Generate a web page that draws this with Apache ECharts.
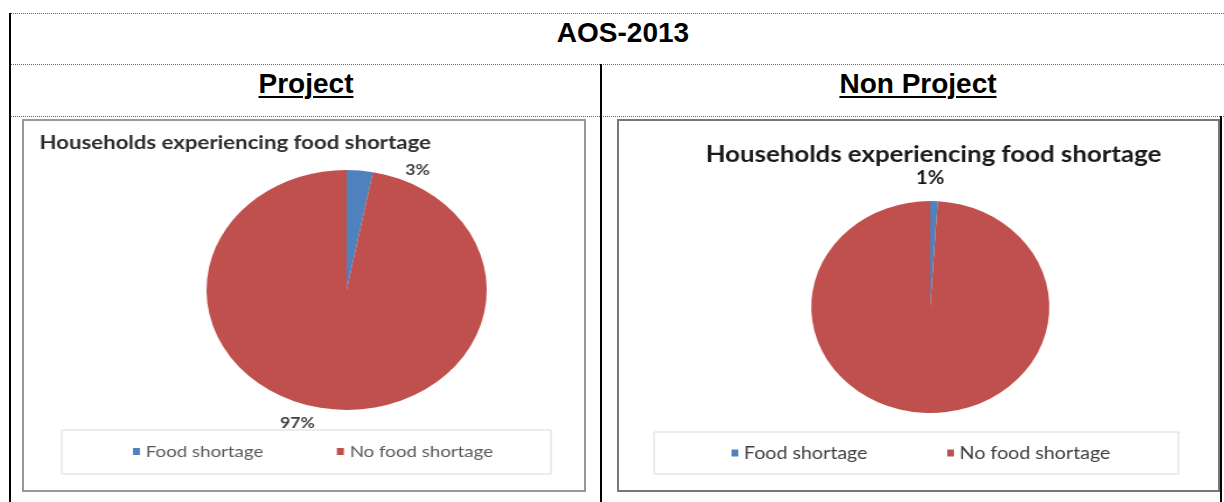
<!DOCTYPE html>
<html>
<head>
<meta charset="utf-8">
<script src="https://cdn.jsdelivr.net/npm/echarts@6/dist/echarts.min.js"></script>
<style>
  html, body { margin: 0; padding: 0; background: #fff; }
  #page { position: relative; width: 1224px; height: 502px; overflow: hidden; font-family: "Liberation Sans", Arial, sans-serif; }
  .dot { position: absolute; height: 0; border-top: 1px dotted #666; }
  .bar { position: absolute; width: 2px; background: #000; }
  .cap { position: absolute; text-align: center; font-size: 28px; line-height: 28px; font-weight: bold; color: #000; white-space: nowrap; }
  .u { text-decoration: underline; text-decoration-thickness: 2px; text-underline-offset: 3px; }
  .chart { position: absolute; height: 373px; transform-origin: 0 0; }
  .frame { position: absolute; box-sizing: border-box; pointer-events: none; }
</style>
</head>
<body>
<div id="page">
  <div class="dot" style="left:9px;top:13px;width:1215px"></div>
  <div class="dot" style="left:9px;top:64px;width:1215px"></div>
  <div class="dot" style="left:9px;top:116px;width:1215px"></div>
  <div class="bar" style="left:9px;top:13px;height:489px"></div>
  <div class="bar" style="left:600px;top:64px;height:438px"></div>
  <div class="bar" style="left:1220px;top:116px;height:386px"></div>

  <div class="cap" style="left:423px;top:19px;width:400px">AOS-2013</div>
  <div class="cap u" style="left:156px;top:70px;width:300px">Project</div>
  <div class="cap u" style="left:768px;top:70px;width:300px">Non Project</div>

  <!-- les images Excel sont étirées en largeur : on étire le canvas pareil -->
  <div id="c1" class="chart" style="left:22px;top:119px;width:483px;transform:scaleX(1.1677)"></div>
  <div id="c2" class="chart" style="left:617px;top:119px;width:537px;transform:scaleX(1.1229)"></div>
  <div class="frame" style="left:22px;top:119px;width:564px;height:373px;border:2px solid #999"></div>
  <div class="frame" style="left:617px;top:119px;width:603px;height:373px;border:2px solid #777"></div>
</div>
<script>
const categories = ['Food shortage', 'No food shortage'];
const projectValues = [3, 97];
const nonProjectValues = [1, 99];
const chartTitle = 'Households experiencing food shortage';

const BLUE = '#4F81BD';
const RED = '#C0504D';

function panelOption(values, s) {
  return {
    animation: false,
    color: [BLUE, RED],
    title: {
      text: chartTitle,
      left: s.titleLeft,
      top: s.titleTop,
      padding: 0,
      textStyle: { fontFamily: 'Lato', fontWeight: 'bold', fontSize: s.titleSize, color: s.titleColor }
    },
    legend: {
      data: categories,
      left: s.legendLeft,
      top: s.legendTop,
      padding: 0,
      itemGap: s.legendGap,
      itemWidth: 6,
      itemHeight: 7,
      icon: 'rect',
      textStyle: { fontFamily: 'Lato', fontSize: s.legendSize, color: s.legendColor }
    },
    graphic: [{
      type: 'rect',
      silent: true,
      shape: s.legendBox,
      style: { fill: 'none', stroke: '#d9d9d9', lineWidth: 1 }
    }],
    series: [{
      type: 'pie',
      radius: s.radius,
      center: s.center,
      startAngle: 90,
      clockwise: true,
      avoidLabelOverlap: false,
      label: {
        position: 'outside',
        formatter: (p) => Math.round(p.percent) + '%',
        fontFamily: 'Lato',
        fontWeight: 'bold',
        fontSize: s.labelSize,
        color: s.labelColor
      },
      labelLine: { show: false, length: 0, length2: 0 },
      labelLayout: (p) => ({ dx: s.labelNudge[p.dataIndex][0], dy: s.labelNudge[p.dataIndex][1] }),
      emphasis: { scale: false },
      data: categories.map((name, i) => ({ name, value: values[i], label: { show: s.showLabel[i] } }))
    }]
  };
}

const c1 = echarts.init(document.getElementById('c1'), null, { renderer: 'canvas' });
c1.setOption(panelOption(projectValues, {
  titleLeft: 15, titleTop: 14.5, titleSize: 19, titleColor: '#2e2e2e',
  legendLeft: 95, legendTop: 324.5, legendGap: 63, legendSize: 16, legendColor: '#595959',
  legendBox: { x: 34, y: 311, width: 419, height: 44 },
  radius: 120, center: [278, 171],
  labelSize: 15, labelColor: '#404040',
  labelNudge: [[34, 0], [-11, 14]],
  showLabel: [true, true]
}));

const c2 = echarts.init(document.getElementById('c2'), null, { renderer: 'canvas' });
c2.setOption(panelOption(nonProjectValues, {
  titleLeft: 79, titleTop: 24.5, titleSize: 23, titleColor: '#1a1a1a',
  legendLeft: 102, legendTop: 325, legendGap: 71, legendSize: 17.5, legendColor: '#404040',
  legendBox: { x: 33, y: 313, width: 467, height: 42 },
  radius: 106, center: [279, 188],
  labelSize: 18, labelColor: '#1a1a1a',
  labelNudge: [[-21, -23], [0, 0]],
  showLabel: [true, false]
}));
</script>
</body>
</html>
